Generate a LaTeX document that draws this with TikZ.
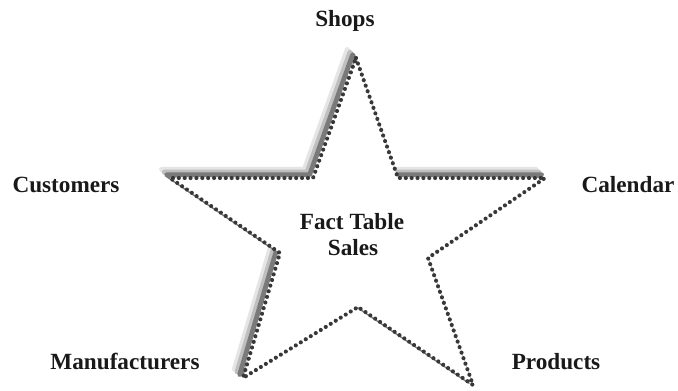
\documentclass[tikz,border=0pt]{standalone}
\usepackage{fontspec}
\setmainfont{Liberation Serif}
\begin{document}
\begin{tikzpicture}[x=0.75pt,y=-0.75pt,
  lbl/.style={font=\bfseries\fontsize{17.4}{19}\selectfont, anchor=base, inner sep=0pt, text=black!90},
  shadowline/.style={line width=3.6pt, line join=round, line cap=round},
  dotline/.style={draw=black!78, line width=3.1pt, line cap=round, dash pattern=on 0pt off 4.4pt}]
\useasboundingbox[fill=white] (0,0) rectangle (678,391);

% star vertices, clockwise from the top
\coordinate (T)  at (356,58);
\coordinate (RI) at (398,178);
\coordinate (R)  at (545,178);
\coordinate (RL) at (428,258);
\coordinate (BR) at (473,385);
\coordinate (B)  at (358,307);
\coordinate (BL) at (243,378);
\coordinate (LL) at (280,253);
\coordinate (L)  at (170,178);
\coordinate (LI) at (313,178);

% soft drop shadow towards the upper left
\begin{scope}[transform canvas={xshift=-6.5pt,yshift=6.5pt}]
  \draw[shadowline, draw=black!10] (T) -- (RI) -- (R) -- (RL) -- (BR) -- (B) -- (BL) -- (LL) -- (L) -- (LI) -- cycle;
\end{scope}
\begin{scope}[transform canvas={xshift=-4.5pt,yshift=4.5pt}]
  \draw[shadowline, draw=black!25] (T) -- (RI) -- (R) -- (RL) -- (BR) -- (B) -- (BL) -- (LL) -- (L) -- (LI) -- cycle;
\end{scope}
\begin{scope}[transform canvas={xshift=-2.5pt,yshift=2.5pt}]
  \draw[shadowline, draw=black!52] (T) -- (RI) -- (R) -- (RL) -- (BR) -- (B) -- (BL) -- (LL) -- (L) -- (LI) -- cycle;
\end{scope}

% star body and dotted outline
\fill[white] (T) -- (RI) -- (R) -- (RL) -- (BR) -- (B) -- (BL) -- (LL) -- (L) -- (LI) -- cycle;
\draw[dotline] (T) -- (RI) -- (R) -- (RL) -- (BR) -- (B) -- (BL) -- (LL) -- (L) -- (LI) -- cycle;

% labels
\node[lbl] (shops) at (345,27) {Shops};
\node[lbl] (customers) at (66,193) {Customers};
\node[lbl] (calendar) at (628,193) {Calendar};
\node[lbl] (manufacturers) at (125,370) {Manufacturers};
\node[lbl] (products) at (556,370) {Products};
\node[lbl] (fact) at (352,230) {Fact Table};
\node[lbl] (sales) at (353,256) {Sales};
\end{tikzpicture}
\end{document}
